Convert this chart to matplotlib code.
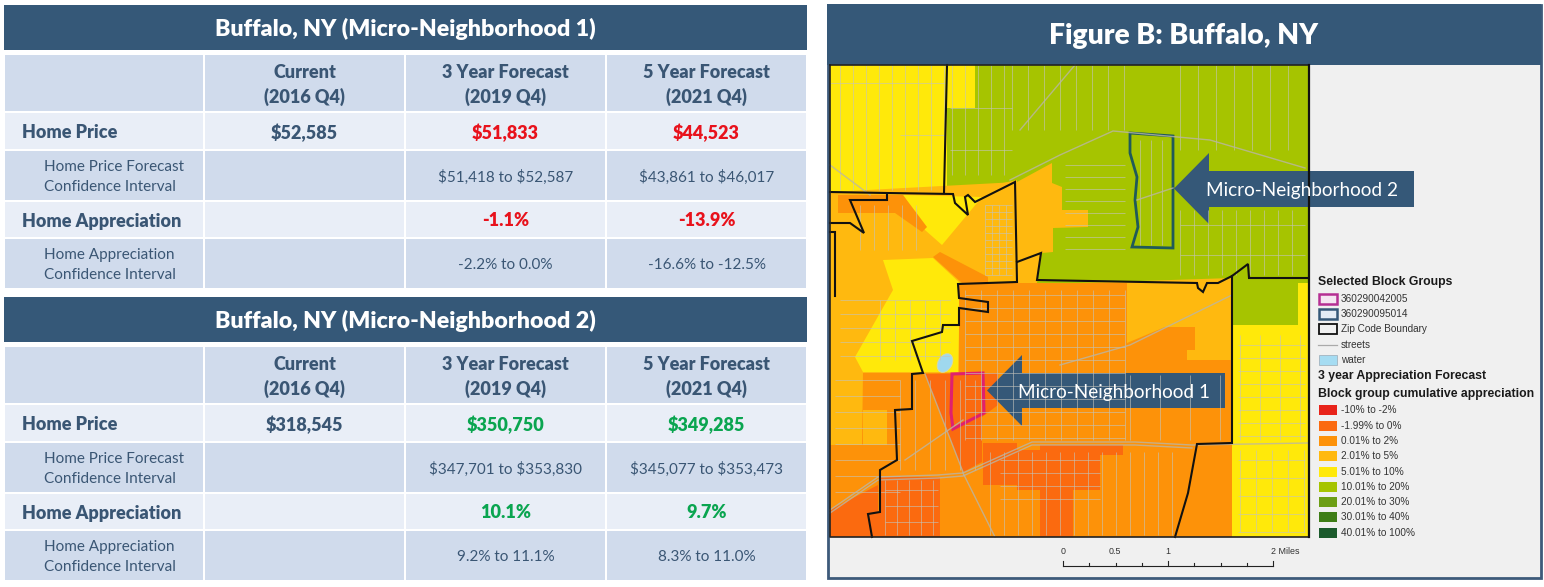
import matplotlib
matplotlib.use("Agg")
import numpy as np
import matplotlib.pyplot as plt
from matplotlib.patches import Rectangle, Polygon, Ellipse

# Table contents
table_titles = ["Buffalo, NY (Micro-Neighborhood 1)", "Buffalo, NY (Micro-Neighborhood 2)"]
col_heads = ["Current\n(2016 Q4)", "3 Year Forecast\n(2019 Q4)", "5 Year Forecast\n(2021 Q4)"]
row_heads = ["Home Price", "Home Price Forecast\nConfidence Interval",
             "Home Appreciation", "Home Appreciation\nConfidence Interval"]
table1_rows = [["\\$52,585", "\\$51,833", "\\$44,523"],
               ["", "\\$51,418 to \\$52,587", "\\$43,861 to \\$46,017"],
               ["", "-1.1%", "-13.9%"],
               ["", "-2.2% to 0.0%", "-16.6% to -12.5%"]]
table2_rows = [["\\$318,545", "\\$350,750", "\\$349,285"],
               ["", "\\$347,701 to \\$353,830", "\\$345,077 to \\$353,473"],
               ["", "10.1%", "9.7%"],
               ["", "9.2% to 11.1%", "8.3% to 11.0%"]]

# Legend
legend_selected = ["360290042005", "360290095014"]
legend_classes = ["-10% to -2%", "-1.99% to 0%", "0.01% to 2%", "2.01% to 5%", "5.01% to 10%",
                  "10.01% to 20%", "20.01% to 30%", "30.01% to 40%", "40.01% to 100%"]
class_colors = ["#e8231a", "#fb6a0f", "#fd9209", "#ffb90f", "#ffe90a",
                "#a6c400", "#6c9e14", "#3e7d16", "#1b5a2c"]
scale_labels = ["0", "0.5", "1", "2 Miles"]

NAVY = "#355878"
DARK = "#d0dbec"
LIGHT = "#e9eef7"
TEXT = "#3a5674"
RED = "#e8121c"
GREEN = "#0aa550"
ORANGE_DK, ORANGE, AMBER, YELLOW, LIME = class_colors[1], class_colors[2], class_colors[3], class_colors[4], class_colors[5]

# Map blocks in pixels
blocks = [
    (AMBER, [(830, 65), (1309, 65), (1309, 537), (830, 537)]),
    (YELLOW, [(830, 65), (975, 65), (975, 108), (947, 108), (947, 195), (830, 195)]),
    (LIME, [(975, 65), (1309, 65), (1309, 325), (1232, 325), (1232, 278), (1017, 285), (1017, 180), (947, 195), (947, 108), (975, 108)]),
    (AMBER, [(830, 192), (1017, 182), (1052, 163), (1052, 183), (1062, 187), (1062, 210), (1088, 210), (1088, 227),
             (1053, 228), (1053, 252), (1042, 253), (1037, 283), (960, 283), (958, 372), (863, 372), (862, 445), (830, 445)]),
    (YELLOW, [(903, 195), (982, 197), (942, 245), (925, 230)]),
    (YELLOW, [(883, 260), (933, 258), (960, 283), (958, 372), (863, 372), (855, 357), (893, 290)]),
    (ORANGE, [(838, 195), (903, 195), (927, 227), (922, 232), (895, 213), (838, 213)]),
    (ORANGE, [(933, 257), (940, 252), (988, 277), (988, 283), (962, 283)]),
    (ORANGE, [(959, 283), (1232, 283), (1232, 537), (830, 537), (830, 445), (862, 445), (863, 373), (959, 373)]),
    (AMBER, [(1127, 283), (1232, 283), (1232, 360), (1187, 360), (1187, 350), (1195, 350), (1195, 327), (1165, 327), (1127, 343)]),
    (AMBER, [(863, 410), (887, 410), (887, 445), (863, 445)]),
    (ORANGE_DK, [(925, 374), (998, 373), (998, 405), (982, 417), (982, 462), (963, 472)]),
    (ORANGE_DK, [(983, 443), (1017, 443), (1017, 450), (1040, 450), (1040, 445), (1123, 445), (1123, 455), (1100, 455),
                 (1100, 490), (1073, 490), (1073, 537), (1040, 537), (1040, 490), (1017, 490), (1017, 485), (983, 485)]),
    (ORANGE_DK, [(830, 510), (878, 485), (878, 537), (830, 537)]),
    (ORANGE_DK, [(880, 477), (940, 477), (940, 537), (872, 537), (868, 513), (880, 511)]),
    (YELLOW, [(1232, 325), (1298, 325), (1298, 283), (1309, 283), (1309, 537), (1232, 537)]),
]

# Street grids: x0, x1, y0, y1, dx, dy (0 means no lines that way)
street_grids = [
    (840, 945, 65, 190, 13, 0), (830, 945, 83, 83, 0, 1), (900, 945, 135, 135, 0, 1),
    (952, 1010, 65, 175, 13, 0), (950, 1012, 108, 150, 0, 42),
    (1012, 1128, 65, 130, 16, 0), (1065, 1125, 165, 260, 0, 12), (1140, 1170, 140, 245, 11, 0),
    (1180, 1305, 65, 150, 18, 0), (1180, 1305, 210, 275, 14, 0), (1180, 1305, 225, 255, 0, 30),
    (965, 1125, 290, 440, 16, 0), (965, 1125, 295, 440, 0, 13), (1130, 1225, 375, 440, 30, 0),
    (990, 1175, 452, 535, 14, 0), (1000, 1100, 460, 500, 0, 13),
    (1240, 1305, 335, 440, 20, 0), (1238, 1305, 345, 440, 0, 13), (1240, 1305, 450, 532, 16, 0), (1238, 1305, 460, 532, 0, 18),
    (840, 950, 300, 360, 0, 14), (880, 950, 300, 360, 15, 0), (860, 925, 205, 250, 14, 0),
    (900, 980, 380, 470, 15, 0), (835, 900, 380, 505, 0, 16), (885, 938, 480, 535, 12, 0), (885, 938, 490, 535, 0, 16),
    (985, 1012, 205, 275, 7, 0), (985, 1012, 205, 275, 0, 7),
]
street_lines = [
    [(830, 510), (878, 477), (938, 475), (963, 473), (1032, 442), (1135, 442), (1192, 445), (1308, 443)],
    [(830, 513), (878, 480), (938, 478), (963, 476), (1032, 445), (1135, 445), (1192, 448)],
    [(1010, 180), (1060, 155), (1113, 131), (1210, 140), (1305, 168)],
    [(1060, 365), (1130, 345), (1232, 295)],
    [(830, 165), (870, 195)], [(1020, 130), (1075, 65)], [(905, 460), (963, 420)],
    [(963, 473), (995, 537)], [(925, 374), (963, 472)], [(1137, 200), (1173, 188)],
]

# Zip code boundaries
zip_lines = [
    [(947, 65), (944, 193)],
    [(830, 192), (887, 193), (953, 194), (955, 203), (968, 215), (965, 197), (968, 195), (975, 202), (1015, 182),
     (1017, 282), (958, 284), (959, 298), (988, 302), (988, 312), (959, 308), (959, 325), (943, 325), (942, 332),
     (912, 341), (923, 373), (912, 374), (912, 409), (895, 410), (897, 460), (880, 470), (880, 512), (868, 514), (872, 537)],
    [(1017, 262), (1041, 253), (1037, 280), (1197, 283), (1198, 288), (1203, 292), (1207, 283), (1218, 283),
     (1232, 276), (1248, 264), (1249, 278), (1308, 278)],
    [(1232, 276), (1232, 443), (1197, 444), (1188, 493), (1175, 537)],
    [(830, 223), (850, 223), (864, 233), (850, 200), (887, 200), (887, 195)],
    [(830, 232), (835, 232), (835, 296)],
]
micro1 = [(952, 374), (983, 373), (984, 413), (953, 429), (951, 413)]
micro2 = [(1130, 133), (1173, 136), (1173, 248), (1132, 247), (1138, 227), (1135, 200), (1137, 177), (1130, 153)]


def arrow_points(tip, base, top, bottom, shaft_top, shaft_bottom, right):
    mid = (top + bottom) / 2
    return [(tip, mid), (base, top), (base, shaft_top), (right, shaft_top),
            (right, shaft_bottom), (base, shaft_bottom), (base, bottom)]


plt.rcParams["font.family"] = ["Lato", "DejaVu Sans"]
fig = plt.figure(figsize=(15.44, 5.87), dpi=100)
ax = fig.add_axes([0, 0, 1, 1])
ax.set_xlim(0, 1544)
ax.set_ylim(587, 0)
ax.axis("off")


def box(x0, y0, x1, y1, color, **kw):
    ax.add_patch(Rectangle((x0, y0), x1 - x0, y1 - y0, facecolor=color, edgecolor=kw.pop("ec", "none"), **kw))


def draw_table(top, title, rows, accent):
    col_x = [4, 204, 405, 606, 807]
    row_y = [top + 49, top + 107, top + 145, top + 196, top + 233, top + 284]
    box(4, top, 807, top + 45, NAVY)
    ax.text(405.5, top + 24, title, color="white", fontsize=16.7, fontweight="heavy", ha="center", va="center")
    for r in range(5):
        for c in range(4):
            color = DARK if r in (0, 2, 4) else LIGHT
            box(col_x[c] + 1, row_y[r] + 1, col_x[c + 1] - 1, row_y[r + 1] - 1, color)
    for c in range(3):
        ax.text((col_x[c + 1] + col_x[c + 2]) / 2, (row_y[0] + row_y[1]) / 2 + 2, col_heads[c], color=TEXT,
                fontsize=13, fontweight="heavy", ha="center", va="center", linespacing=1.5)
    for r in range(4):
        cy = (row_y[r + 1] + row_y[r + 2]) / 2 + 1.5
        big = r in (0, 2)
        ax.text(22 if big else 44, cy, row_heads[r], color=TEXT, fontsize=13 if big else 11,
                fontweight="heavy" if big else "normal", ha="left", va="center", linespacing=1.5)
        for c in range(3):
            val = rows[r][c]
            if not val:
                continue
            color = accent if big and c > 0 else TEXT
            ax.text((col_x[c + 1] + col_x[c + 2]) / 2, cy, val, color=color, fontsize=13 if big else 11,
                    fontweight="heavy" if big else "normal", ha="center", va="center")


draw_table(5, table_titles[0], table1_rows, RED)
draw_table(297, table_titles[1], table2_rows, GREEN)

# Right panel
box(827.5, 5, 1540.5, 578, "#f0f0f0", ec="#3d5a7a", linewidth=2)
box(827, 4, 1541, 65, NAVY)
ax.text(1184, 36, "Figure B: Buffalo, NY", color="white", fontsize=20.3, fontweight="heavy", ha="center", va="center")

map_clip = Rectangle((830, 65), 479, 472, transform=ax.transData, facecolor="none", edgecolor="none")
ax.add_patch(map_clip)
for color, pts in blocks:
    p = Polygon(pts, closed=True, facecolor=color, edgecolor="none")
    ax.add_patch(p)
    p.set_clip_path(map_clip)

for x0, x1, y0, y1, dx, dy in street_grids:
    if dx:
        for x in np.arange(x0, x1 + 1, dx):
            ax.plot([x, x], [y0, y1], color="#c4c4bc", lw=0.7, alpha=0.6, solid_capstyle="butt")
    if dy:
        for y in np.arange(y0, y1 + 1, dy):
            ax.plot([x0, x1], [y, y], color="#c4c4bc", lw=0.7, alpha=0.6, solid_capstyle="butt")
for pts in street_lines:
    ax.plot(*zip(*pts), color="#bab6a6", lw=1.0, alpha=0.8)

ax.add_patch(Ellipse((945, 363), 14, 20, angle=30, facecolor="#9fd8ee", edgecolor="#d8d8a8", lw=0.6))

for pts in zip_lines:
    ax.plot(*zip(*pts), color="#111111", lw=1.5, solid_joinstyle="miter")
# map frame
ax.plot([830, 830, 1309, 1309, 830], [65, 537, 537, 65, 65], color="#222222", lw=1.2)
ax.plot([1309, 1309], [65, 537], color="#111111", lw=1.6)

ax.add_patch(Polygon(micro1, closed=True, facecolor="none", edgecolor="#e0206e", lw=2.2))
ax.add_patch(Polygon(micro2, closed=True, facecolor="none", edgecolor="#1f5a5a", lw=2))

ax.add_patch(Polygon(arrow_points(1174, 1209, 153, 224, 171, 207, 1414), closed=True, facecolor=NAVY, edgecolor="none"))
ax.text(1206, 190.5, "Micro-Neighborhood 2", color="white", fontsize=13.7, ha="left", va="center")
ax.add_patch(Polygon(arrow_points(987, 1022, 355, 426, 373, 408, 1225), closed=True, facecolor=NAVY, edgecolor="none"))
ax.text(1018, 392.5, "Micro-Neighborhood 1", color="white", fontsize=13.7, ha="left", va="center")

# Legend
LEG = ["Liberation Sans", "DejaVu Sans"]
LEG_C = "#333333"


def leg_text(y, s, bold=False):
    ax.text(1341 if not bold else 1318, y, s, color="#1a1a1a" if bold else LEG_C, fontsize=8.8 if bold else 7.2,
            fontweight="bold" if bold else "normal", family=LEG, ha="left", va="center")


def swatch(y, face, edge, lw=0.0):
    ax.add_patch(Rectangle((1318.5, y - 5), 18, 10, facecolor=face, edgecolor=edge, lw=lw))


leg_text(282, "Selected Block Groups", True)
swatch(299, "#f5e6f2", "#b52f93", 1.8)
leg_text(299, legend_selected[0])
swatch(314, "#e4ecf5", "#355878", 1.8)
leg_text(314, legend_selected[1])
swatch(329, "#f0f0f0", "#111111", 1.3)
leg_text(329, "Zip Code Boundary")
ax.plot([1318, 1337], [345, 345], color="#aaaaaa", lw=0.9)
leg_text(345, "streets")
swatch(360, "#a5dcf2", "#9aaab5", 0.5)
leg_text(360, "water")
leg_text(376, "3 year Appreciation Forecast", True)
leg_text(394, "Block group cumulative appreciation", True)
class_y = [410, 426, 441, 456, 472, 487, 502, 517, 533]
for y, label, color in zip(class_y, legend_classes, class_colors):
    swatch(y, color, "none")
    leg_text(y, label)

# Scale bar
tick_x = np.linspace(1063, 1273, 9)
ax.plot([1063, 1273], [566, 566], color="#222222", lw=0.8)
for i, x in enumerate(tick_x):
    ax.plot([x, x], [566, 561 if i % 4 == 0 else 563], color="#222222", lw=0.8)
for x, label in zip([1063, 1115, 1168, 1271], scale_labels):
    ax.text(x, 552, label, fontsize=6.4, color=LEG_C, family=LEG, ha="left" if label == "2 Miles" else "center", va="center")

fig.savefig("out.png", dpi=100, facecolor="white")
